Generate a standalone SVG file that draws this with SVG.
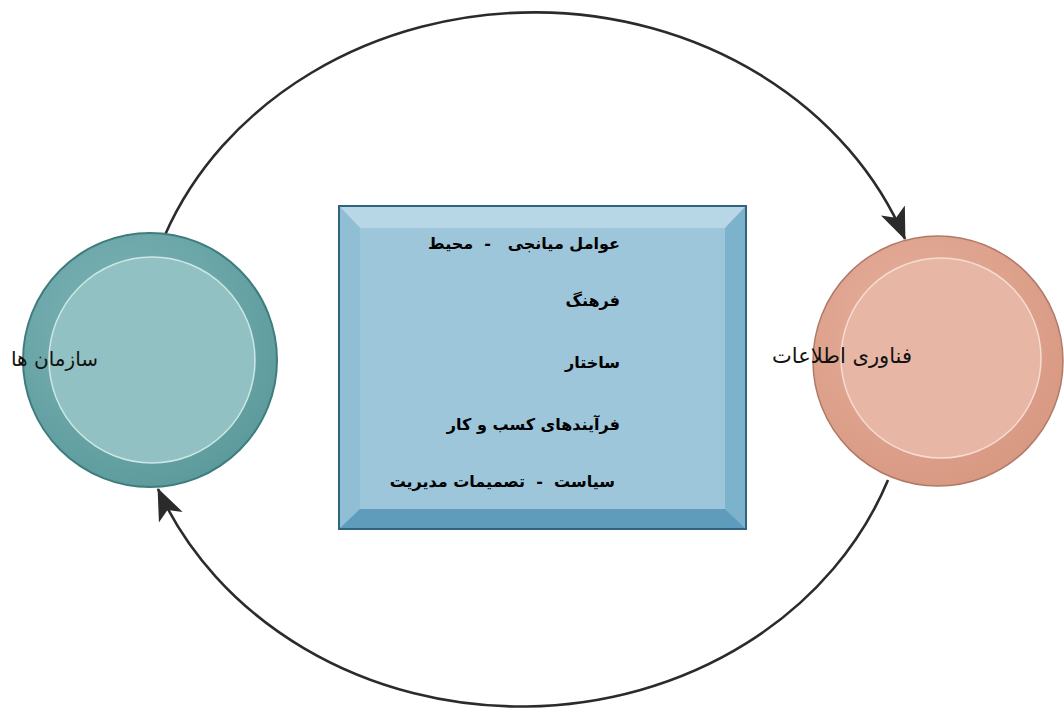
<svg xmlns="http://www.w3.org/2000/svg" width="1064" height="713" viewBox="0 0 1064 713">
  <style>
    .conn { fill: none; stroke: #2b2b2b; stroke-width: 2.6; }
    .lbl { font-family: "DejaVu Sans", "Noto Sans", sans-serif; font-size: 21px; fill: #111; }
    .item { font-family: "DejaVu Sans", "Noto Sans", sans-serif; font-size: 16px; font-weight: bold; fill: #000; white-space: pre; }
  </style>
  <defs>
    <marker id="arrow" markerUnits="userSpaceOnUse" markerWidth="32" markerHeight="28" viewBox="0 0 32 28" refX="31" refY="14" orient="auto">
      <path d="M0,1 L32,14 L0,27 L8,14 Z" fill="#2b2b2b"/>
    </marker>
    <radialGradient id="tealOuter" cx="0.4" cy="0.35" r="0.7">
      <stop offset="0" stop-color="#7fb5b7"/>
      <stop offset="1" stop-color="#5b9a9c"/>
    </radialGradient>
    <radialGradient id="peachOuter" cx="0.4" cy="0.35" r="0.7">
      <stop offset="0" stop-color="#e6b09c"/>
      <stop offset="1" stop-color="#d89882"/>
    </radialGradient>
  </defs>

  <g id="connectors">
    <path class="conn" d="M165,235 A396,349 0 0 1 905,239" marker-end="url(#arrow)"/>
    <path class="conn" d="M888,480 A391,346 0 0 1 158,489" marker-end="url(#arrow)"/>
  </g>

  <g id="node-organizations">
    <circle cx="150" cy="360" r="127" fill="url(#tealOuter)" stroke="#3f7c7e" stroke-width="2"/>
    <circle cx="152" cy="360" r="103" fill="#92c1c3" stroke="#cfe6e6" stroke-width="1.5"/>
    <text class="lbl" x="98" y="366" text-anchor="start" direction="rtl" style="font-size:20px">سازمان ها</text>
  </g>

  <g id="node-it">
    <circle cx="938" cy="361" r="125" fill="url(#peachOuter)" stroke="#b07a68" stroke-width="1.5"/>
    <circle cx="941" cy="358" r="100" fill="#e7b6a4" stroke="#f6dcd2" stroke-width="1.5"/>
    <text class="lbl" x="912" y="363" text-anchor="start" direction="rtl">فناوری اطلاعات</text>
  </g>

  <g id="node-mediating">
    <rect x="339" y="206" width="407" height="323" fill="#9ec7dc" stroke="#2f6480" stroke-width="2"/>
    <polygon points="340,207 745,207 725,228 360,228" fill="#b7d7e7"/>
    <polygon points="340,207 360,228 360,509 340,528" fill="#8fbed5"/>
    <polygon points="745,207 745,528 725,509 725,228" fill="#7db2cd"/>
    <polygon points="340,528 360,509 725,509 745,528" fill="#5f9cbc"/>
    <rect x="360" y="228" width="365" height="281" fill="#9dc6db"/>
    <rect x="339" y="206" width="407" height="323" fill="none" stroke="#2f6480" stroke-width="2"/>
    <text class="item" x="620" y="249" direction="rtl" text-anchor="start" xml:space="preserve">عوامل میانجی   -  محیط</text>
    <text class="item" x="620" y="306" direction="rtl" text-anchor="start">فرهنگ</text>
    <text class="item" x="620" y="368" direction="rtl" text-anchor="start">ساختار</text>
    <text class="item" x="620" y="430" direction="rtl" text-anchor="start">فرآیندهای کسب و کار</text>
    <text class="item" x="615" y="487" direction="rtl" text-anchor="start" xml:space="preserve">سیاست  -  تصمیمات مدیریت</text>
  </g>
</svg>
